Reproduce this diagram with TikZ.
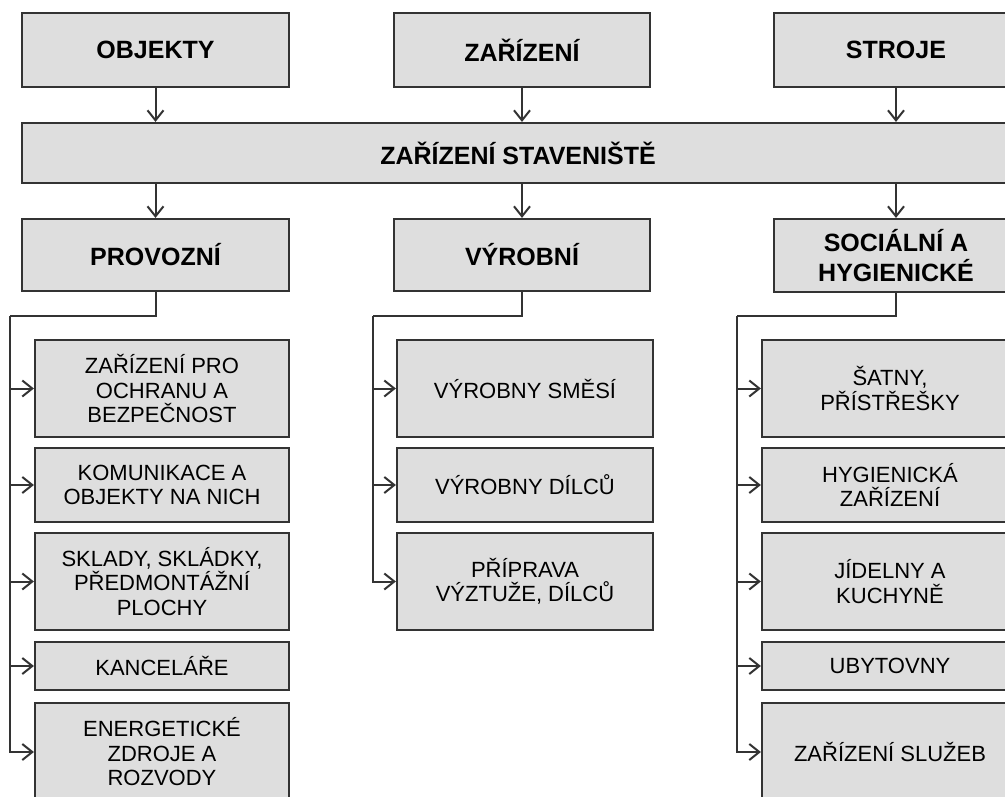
\documentclass[tikz,border=0pt]{standalone}
\usepackage{fontspec}
\setmainfont{Liberation Sans}
\usetikzlibrary{arrows.meta}
\definecolor{boxgray}{HTML}{DEDEDE}
\definecolor{edgegray}{HTML}{333333}
\begin{document}
\begin{tikzpicture}[x=1pt,y=-1pt]
  \tikzstyle{box}=[draw=edgegray,fill=boxgray,line width=2.2pt,inner sep=0pt,align=center]
  \tikzstyle{head}=[box,font=\fontsize{25}{30}\selectfont\bfseries]
  \tikzstyle{item}=[box,font=\fontsize{22}{24.5}\selectfont,minimum width=256pt]
  \tikzstyle{line}=[draw=edgegray,line width=2pt]
  \tikzstyle{arr}=[line,-{Straight Barb[length=10pt,width=16pt,line width=2pt]}]
  \useasboundingbox (0,0) rectangle (1005,796);
  \clip (0,0) rectangle (1005,796);
  \fill[white] (0,0) rectangle (1005,796);
  \node[head,minimum width=267pt,minimum height=74pt] (obj) at (155.5,50) {OBJEKTY};
  \node[head,minimum width=256pt,minimum height=74pt] (zar) at (522,50) {ZAŘÍZENÍ};
  \node[head,minimum width=244pt,minimum height=74pt] (stroje) at (896,50) {STROJE};
  \node[head,minimum width=992pt,minimum height=60pt] (zs) at (518,153) {ZAŘÍZENÍ STAVENIŠTĚ};
  \node[head,minimum width=267pt,minimum height=72pt] (prov) at (155.5,255) {PROVOZNÍ};
  \node[head,minimum width=256pt,minimum height=72pt] (vyr) at (522,255) {VÝROBNÍ};
  \node[head,minimum width=244pt,minimum height=73pt] (soc) at (896,255.5) {SOCIÁLNÍ A\\HYGIENICKÉ};
  \draw[arr] (obj) -- (obj |- zs.north);
  \draw[arr] (zar) -- (zar |- zs.north);
  \draw[arr] (stroje) -- (stroje |- zs.north);
  \draw[arr] (prov |- zs.south) -- (prov);
  \draw[arr] (vyr |- zs.south) -- (vyr);
  \draw[arr] (soc |- zs.south) -- (soc);
  \node[item,minimum width=254pt,minimum height=97pt] (pa) at (162,388.5) {ZAŘÍZENÍ PRO\\OCHRANU A\\BEZPEČNOST};
  \node[item,minimum width=254pt,minimum height=74pt] (pb) at (162,485) {KOMUNIKACE A\\OBJEKTY NA NICH};
  \node[item,minimum width=254pt,minimum height=97pt] (pc) at (162,581.5) {SKLADY, SKLÁDKY,\\PŘEDMONTÁŽNÍ\\PLOCHY};
  \node[item,minimum width=254pt,minimum height=48pt] (pd) at (162,666) {KANCELÁŘE};
  \node[item,minimum width=254pt,minimum height=98pt] (pe) at (162,752) {ENERGETICKÉ\\ZDROJE A\\ROZVODY};
  \node[item,minimum height=97pt] (va) at (525,388.5) {VÝROBNY SMĚSÍ};
  \node[item,minimum height=74pt] (vb) at (525,485) {VÝROBNY DÍLCŮ};
  \node[item,minimum height=97pt] (vc) at (525,581.5) {PŘÍPRAVA\\VÝZTUŽE, DÍLCŮ};
  \node[item,minimum height=97pt] (sa) at (890,388.5) {ŠATNY,\\PŘÍSTŘEŠKY};
  \node[item,minimum height=74pt] (sb) at (890,485) {HYGIENICKÁ\\ZAŘÍZENÍ};
  \node[item,minimum height=97pt] (sc) at (890,581.5) {JÍDELNY A\\KUCHYNĚ};
  \node[item,minimum height=48pt] (sd) at (890,666) {UBYTOVNY};
  \node[item,minimum height=98pt] (se) at (890,752) {ZAŘÍZENÍ SLUŽEB};
  \coordinate (pturn) at (10,316);
  \coordinate (vturn) at (373,316);
  \coordinate (sturn) at (737,316);
  \draw[line] (prov.south) |- (pturn);
  \draw[line] (vyr.south) |- (vturn);
  \draw[line] (soc.south) |- (sturn);
  \foreach \c in {pa,pb,pc,pd,pe} \draw[arr] (pturn) |- (\c.west);
  \foreach \c in {va,vb,vc} \draw[arr] (vturn) |- (\c.west);
  \foreach \c in {sa,sb,sc,sd,se} \draw[arr] (sturn) |- (\c.west);
\end{tikzpicture}
\end{document}
